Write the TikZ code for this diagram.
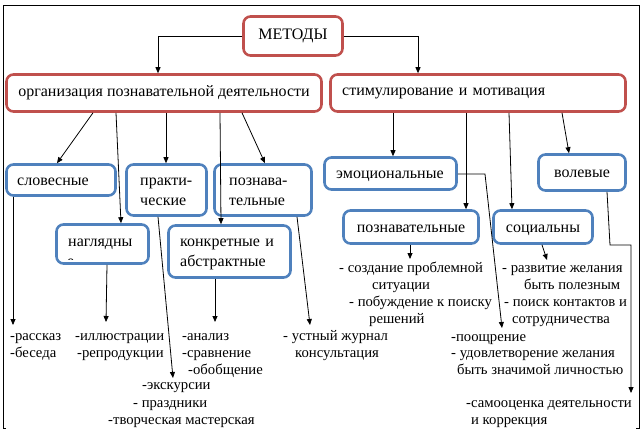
\documentclass[tikz,border=0pt]{standalone}
\usepackage{fontspec}
\setmainfont{Liberation Serif}
\usetikzlibrary{arrows.meta}
\definecolor{boxred}{HTML}{C0504D}
\definecolor{boxblue}{HTML}{4F81BD}
\begin{document}
\begin{tikzpicture}[x=1pt,y=-1pt,
  font=\fontsize{16}{20}\selectfont,
  redbox/.style={draw=boxred, line width=2.6pt, rounded corners=7pt, inner sep=0pt, align=center},
  bluebox/.style={draw=boxblue, line width=2.6pt, rounded corners=7pt, inner sep=0pt, align=center},
  oneline/.style={text height=12pt, text depth=2pt},
  twoline/.style={text height=12pt, text depth=22pt},
  conn/.style={line width=0.8pt, black},
  arr/.style={conn, -{Triangle[length=6pt,width=5pt]}},
  lbl/.style={anchor=base west, inner sep=0pt, font=\fontsize{14.7}{17}\selectfont},
  frame/.style={line width=1pt, black}]
\useasboundingbox (0,0) rectangle (644,431);
% outer frame
\draw[frame] (6,428) -- (3,428) -- (3,5) -- (639,5) -- (639,428) -- (636,428);

% level 0
\node[redbox, minimum width=99pt, minimum height=39pt] (metody) at (293,36) {МЕТОДЫ};
% level 1
\node[redbox, minimum width=315pt, minimum height=37pt] (org) at (164,93) {организация познавательной деятельности};
\node[redbox, minimum width=295pt, minimum height=37pt, text width=271.6pt, inner xsep=11.7pt, align=left] (stim) at (478,93) {стимулирование и мотивация};

% left blue boxes
\node[bluebox, oneline, minimum width=109pt, minimum height=31pt, text width=87.6pt, inner xsep=10.7pt, align=left] (slov) at (61,180) {словесные};
\node[bluebox, twoline, minimum width=80pt, minimum height=51pt, text width=52.6pt, inner xsep=13.7pt, align=left] (prakt) at (166.5,190) {практи-\\ческие};
\node[bluebox, twoline, minimum width=97pt, minimum height=51pt, text width=67.6pt, inner xsep=14.7pt, align=left] (pozn) at (263,190) {познава-\\тельные};
\node[bluebox, text height=12pt, text depth=8pt, minimum width=92pt, minimum height=39pt, text width=68.6pt, inner xsep=11.7pt, align=left] (nagl) at (102.5,244) {наглядны};
\begin{scope}
  \clip (60,256.8) rectangle (85,259.6);
  \node[lbl, font=\fontsize{16}{20}\selectfont] (nagle) at (67,266) {е};
\end{scope}
\node[bluebox, twoline, minimum width=122pt, minimum height=52pt, text width=98.6pt, inner xsep=11.7pt, align=left] (konk) at (229.5,251.5) {конкретные и\\абстрактные};

% right blue boxes
\node[bluebox, oneline, minimum width=132pt, minimum height=32pt, text width=108.6pt, inner xsep=11.7pt, align=left] (emo) at (390.5,173.5) {эмоциональные};
\node[bluebox, oneline, minimum width=87pt, minimum height=36pt] (vol) at (582,172.5) {волевые};
\node[bluebox, oneline, minimum width=135pt, minimum height=33pt] (pozn2) at (411,227) {познавательные};
\node[bluebox, oneline, minimum width=99pt, minimum height=33pt] (soc) at (543,227) {социальны};

% bottom texts (left)
\node[lbl] (t1) at (10,340) {-рассказ};
\node[lbl] (t2) at (10,357) {-беседа};
\node[lbl] (t3) at (75,340) {-иллюстрации};
\node[lbl] (t4) at (77,357) {-репродукции};
\node[lbl] (t5) at (182,340) {-анализ};
\node[lbl] (t6) at (182,357) {-сравнение};
\node[lbl] (t7) at (188,374) {-обобщение};
\node[lbl] (t8) at (142,389) {-экскурсии};
\node[lbl] (t9) at (133,407) {- праздники};
\node[lbl] (t10) at (108,424) {-творческая мастерская};
\node[lbl] (t11) at (283,340) {- устный журнал};
\node[lbl] (t12) at (295,357) {консультация};
% bottom texts (right)
\node[lbl] (r1) at (339,272) {- создание проблемной};
\node[lbl] (r2) at (372,289) {ситуации};
\node[lbl] (r3) at (349,306) {- побуждение к поиску};
\node[lbl] (r4) at (369,323) {решений};
\node[lbl] (r5) at (502,272) {- развитие желания};
\node[lbl] (r6) at (524,289) {быть полезным};
\node[lbl] (r7) at (504,306) {- поиск контактов и};
\node[lbl] (r8) at (512,323) {сотрудничества};
\node[lbl] (r9) at (451,341) {-поощрение};
\node[lbl] (r10) at (451,357) {- удовлетворение желания};
\node[lbl] (r11) at (457,374) {быть значимой личностью};
\node[lbl] (r12) at (466,407) {-самооценка деятельности};
\node[lbl] (r13) at (471,424) {и коррекция};

% arrow end coordinates
\coordinate (eslov) at (13,325);
\coordinate (enagl) at (106,322);
\coordinate (eprakt) at (173,378);
\coordinate (ekonk) at (215,322);
\coordinate (epozn) at (310,325);
\coordinate (eemo) at (502,328);
\coordinate (epozn2) at (410,259);
\coordinate (esoc) at (547,260);
\coordinate (evol) at (631,393);
\coordinate (emoturn) at (485,174);
\coordinate (volturn) at (610,245);

% connectors from METODY
\draw[arr] (metody.west) -| (158,0 |- org.north);
\draw[arr] (metody.east) -| (418,0 |- stim.north);

% from org
\draw[arr] (93,0 |- org.south) -- (57,0 |- slov.north);
\draw[arr] (116,0 |- org.south) -- (121,0 |- nagl.north);
\draw[arr] (166,0 |- org.south) -- (166,0 |- prakt.north);
\draw[arr] (220,0 |- org.south) -- (221,0 |- konk.north);
\draw[arr] (242,0 |- org.south) -- (265,0 |- pozn.north);

% from stim
\draw[arr] (393,0 |- stim.south) -- (393,0 |- emo.north);
\draw[arr] (466,0 |- stim.south) -- (466,0 |- pozn2.north);
\draw[arr] (509,0 |- stim.south) -- (512,0 |- soc.north);
\draw[arr] (562,0 |- stim.south) -- (569,0 |- vol.north);

% to texts
\draw[arr] (13,0 |- slov.south) -- (eslov);
\draw[arr] (107,0 |- nagl.south) -- (enagl);
\draw[arr] (158,0 |- prakt.south) -- (eprakt);
\draw[arr] (215,0 |- konk.south) -- (ekonk);
\draw[arr] (297,0 |- pozn.south) -- (epozn);
\draw[arr] (emo.east |- emoturn) -- (emoturn) -- (eemo);
\draw[arr] (410,0 |- pozn2.south) -- (epozn2);
\draw[arr] (542,0 |- soc.south) -- (esoc);
\draw[arr] (607,0 |- vol.south) -- (volturn) -- (volturn -| evol) -- (evol);
\end{tikzpicture}
\end{document}
